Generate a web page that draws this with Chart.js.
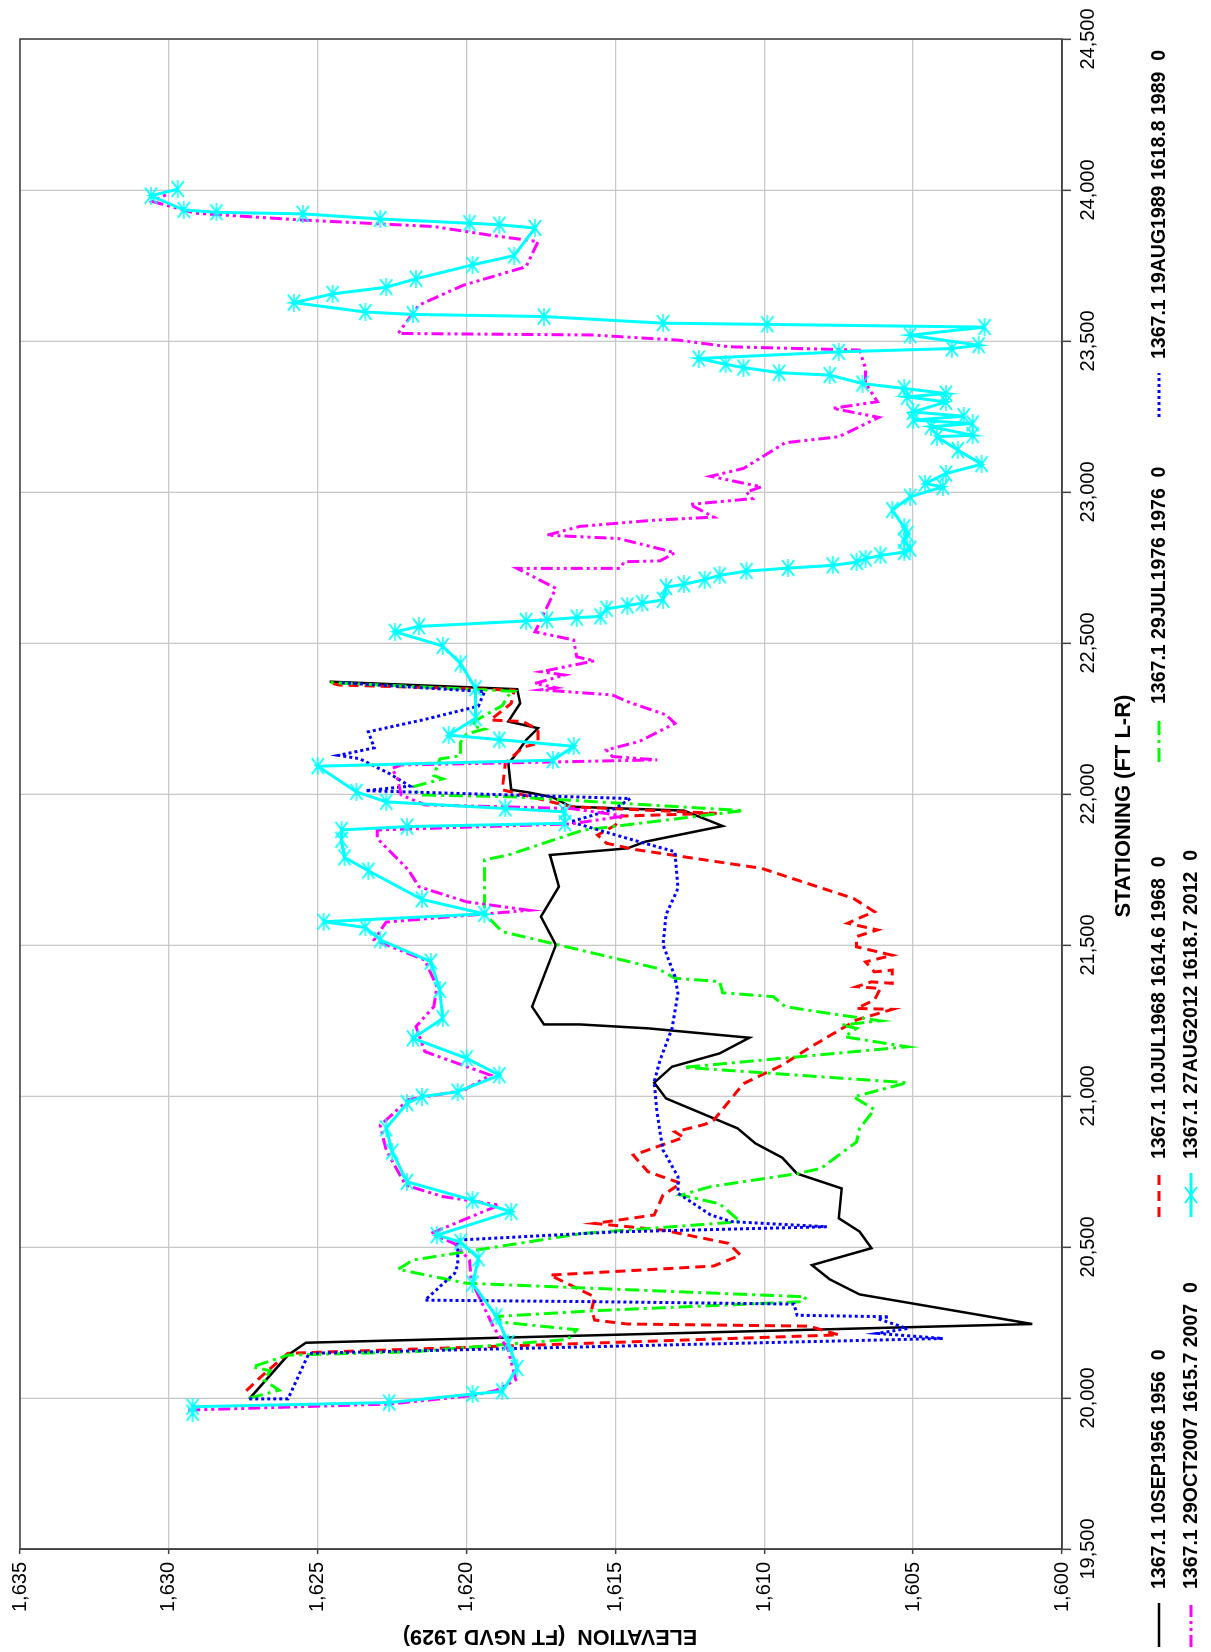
<!DOCTYPE html>
<html>
<head>
<meta charset="utf-8">
<script src="https://cdn.jsdelivr.net/npm/chart.js@4.4.0/dist/chart.umd.min.js"></script>
<style>
  html, body { margin: 0; padding: 0; background: #fff; overflow: hidden; }
  /* chart is laid out landscape, then turned a quarter turn counter-clockwise */
  #wrap { position: absolute; left: 0; top: 0; width: 1652px; height: 1211px;
          transform-origin: 0 0; transform: translateY(1652px) rotate(-90deg); }
</style>
</head>
<body>
<div id="wrap"><canvas id="profile" width="1652" height="1211"></canvas></div>
<script>
// ---- data: stationing (ft) and elevation (ft NGVD 1929) ----
const sta1956 = [19997, 20142, 20183, 20245, 20343, 20393, 20440, 20496, 20551, 20595,
  20694, 20743, 20796, 20843, 20893, 20992, 21044, 21097, 21141, 21193,
  21224, 21237, 21237, 21296, 21500, 21594, 21693, 21798, 21820, 21842,
  21894, 21945, 21958, 21989, 22005, 22014, 22102, 22124, 22179, 22218,
  22240, 22300, 22347, 22372];
const elev1956 = [1627.3, 1626.0, 1625.4, 1601.0, 1606.8, 1607.8, 1608.4, 1606.4, 1606.8, 1607.5,
  1607.4, 1608.9, 1609.4, 1610.3, 1610.9, 1613.3, 1613.7, 1613.1, 1611.5, 1610.5,
  1613.9, 1616.2, 1617.4, 1617.8, 1617.0, 1617.5, 1616.9, 1617.2, 1614.6, 1614.0,
  1611.4, 1612.7, 1616.5, 1617.1, 1617.9, 1618.5, 1618.6, 1618.4, 1618.0, 1617.6,
  1618.6, 1618.2, 1618.3, 1624.6];

const sta1968 = [20024, 20071, 20148, 20209, 20238, 20245, 20258, 20291, 20335, 20407,
  20437, 20473, 20512, 20556, 20578, 20606, 20672, 20711, 20749, 20804,
  20832, 20863, 20881, 20906, 20920, 21041, 21102, 21159, 21252, 21287,
  21290, 21318, 21356, 21362, 21378, 21373, 21417, 21411, 21444, 21466,
  21494, 21528, 21550, 21572, 21594, 21610, 21654, 21754, 21817, 21837,
  21864, 21897, 21927, 21936, 21958, 22014, 22102, 22155, 22168, 22212,
  22240, 22245, 22300, 22344, 22361, 22369];
const elev1968 = [1627.4, 1626.9, 1626.0, 1607.5, 1608.5, 1614.6, 1615.7, 1615.8, 1615.7, 1617.2,
  1611.7, 1610.8, 1611.2, 1613.4, 1615.7, 1613.7, 1613.4, 1612.8, 1613.9, 1614.4,
  1613.6, 1612.7, 1613.0, 1612.0, 1611.7, 1610.7, 1609.4, 1608.5, 1606.9, 1605.7,
  1606.9, 1606.3, 1606.1, 1606.9, 1606.4, 1605.7, 1605.7, 1606.3, 1606.6, 1605.7,
  1606.9, 1606.9, 1606.2, 1607.2, 1606.7, 1606.3, 1607.0, 1610.1, 1614.4, 1615.3,
  1615.6, 1615.0, 1614.8, 1611.6, 1616.5, 1618.8, 1618.7, 1618.1, 1617.6, 1617.6,
  1618.1, 1619.2, 1618.5, 1618.4, 1624.3, 1624.6];

const sta1976 = [19999, 20026, 20059, 20090, 20103, 20142, 20153, 20194, 20226, 20251,
  20270, 20289, 20319, 20335, 20380, 20426, 20457, 20545, 20584, 20643,
  20672, 20700, 20743, 20760, 20848, 20893, 20955, 20997, 21044, 21095,
  21163, 21196, 21224, 21235, 21249, 21279, 21296, 21329, 21342, 21379,
  21390, 21423, 21500, 21544, 21594, 21616, 21782, 21798, 21880, 21945,
  21991, 21997, 22024, 22050, 22061, 22116, 22127, 22171, 22199, 22215,
  22226, 22243, 22293, 22326, 22340, 22369];
const elev1976 = [1627.3, 1626.3, 1626.8, 1626.6, 1627.2, 1626.0, 1621.8, 1616.6, 1616.3, 1618.8,
  1619.0, 1615.7, 1608.7, 1608.6, 1620.0, 1622.3, 1621.8, 1616.1, 1610.8, 1611.5,
  1612.8, 1611.8, 1608.9, 1608.1, 1606.9, 1606.8, 1606.3, 1607.0, 1605.2, 1612.7,
  1605.2, 1607.3, 1606.9, 1607.4, 1606.1, 1608.2, 1609.3, 1609.7, 1611.4, 1611.5,
  1613.0, 1613.6, 1616.9, 1618.8, 1619.3, 1619.4, 1619.4, 1618.6, 1616.1, 1610.7,
  1618.5, 1621.6, 1621.8, 1620.8, 1621.1, 1620.9, 1620.2, 1620.2, 1620.0, 1619.4,
  1619.8, 1619.7, 1618.8, 1618.6, 1618.4, 1624.6];

const sta1989 = [19997, 19997, 20148, 20197, 20214, 20230, 20263, 20269, 20274, 20311,
  20319, 20324, 20413, 20440, 20523, 20550, 20567, 20584, 20606, 20678,
  20733, 20821, 20942, 21047, 21119, 21224, 21340, 21395, 21500, 21600,
  21688, 21809, 21853, 21908, 21952, 21985, 22011, 22026, 22068, 22117,
  22128, 22153, 22206, 22247, 22291, 22339, 22369];
const elev1989 = [1627.3, 1626.0, 1625.3, 1604.0, 1606.2, 1605.2, 1606.2, 1605.8, 1608.9, 1609.0,
  1615.7, 1621.4, 1620.4, 1620.3, 1620.3, 1615.0, 1607.9, 1611.1, 1611.8, 1612.9,
  1612.9, 1613.4, 1613.6, 1613.7, 1613.5, 1613.1, 1612.9, 1613.0, 1613.4, 1613.3,
  1612.9, 1613.0, 1614.6, 1616.5, 1615.0, 1614.5, 1623.4, 1621.9, 1622.6, 1623.6,
  1624.3, 1623.1, 1623.3, 1621.4, 1619.6, 1619.4, 1624.3];

const sta2007 = [19960, 19980, 20008, 20025, 20060, 20159, 20236, 20390, 20456, 20511,
  20545, 20639, 20667, 20705, 20821, 20903, 20988, 21019, 21069, 21147,
  21230, 21296, 21362, 21450, 21517, 21576, 21615, 21643, 21693, 21748,
  21853, 21881, 21901, 21927, 21952, 21964, 21997, 22046, 22085, 22096,
  22113, 22124, 22146, 22174, 22234, 22262, 22306, 22328, 22345, 22352,
  22366, 22394, 22405, 22441, 22454, 22510, 22537, 22598, 22681, 22747,
  22747, 22769, 22772, 22799, 22819, 22846, 22857, 22886, 22906, 22917,
  22959, 22978, 23000, 23017, 23052, 23078, 23163, 23183, 23247, 23277,
  23299, 23360, 23410, 23470, 23481, 23503, 23520, 23525, 23619, 23685,
  23746, 23829, 23851, 23879, 23901, 23923, 23962, 23984];
const elev2007 = [1629.35, 1622.6, 1619.8, 1619.0, 1618.35, 1618.6, 1619.1, 1619.85, 1619.9, 1620.4,
  1621.2, 1618.9, 1620.8, 1622.05, 1622.7, 1622.9, 1621.95, 1620.1, 1619.2, 1621.4,
  1621.7, 1621.1, 1621.0, 1621.4, 1623.1, 1622.7, 1617.9, 1620.0, 1621.6, 1621.95,
  1623.0, 1623.0, 1616.5, 1614.7, 1616.5, 1621.4, 1622.2, 1622.3, 1622.5, 1622.2,
  1613.6, 1615.1, 1615.3, 1614.2, 1613.0, 1613.3, 1614.6, 1615.1, 1617.5, 1617.0,
  1617.7, 1616.7, 1617.5, 1615.7, 1616.3, 1616.4, 1617.7, 1617.4, 1617.0, 1618.3,
  1614.85, 1614.7, 1613.5, 1613.0, 1613.8, 1614.9, 1617.3, 1616.2, 1613.8, 1611.7,
  1612.5, 1610.4, 1610.6, 1610.1, 1611.8, 1610.7, 1609.3, 1607.5, 1606.15, 1607.7,
  1606.2, 1606.6, 1606.6, 1606.8, 1611.2, 1612.9, 1615.8, 1622.3, 1621.6, 1620.1,
  1618.0, 1617.6, 1619.25, 1621.1, 1625.6, 1629.1, 1630.55, 1630.1];

const sta2012 = [19951, 19971, 19985, 20013, 20022, 20099, 20182, 20270, 20379, 20462,
  20517, 20539, 20617, 20655, 20716, 20816, 20893, 20976, 20998, 21014,
  21069, 21125, 21191, 21257, 21351, 21445, 21517, 21558, 21577, 21603,
  21651, 21746, 21790, 21848, 21881, 21892, 21903, 21941, 21952, 21974,
  22007, 22092, 22112, 22158, 22180, 22195, 22251, 22350, 22432, 22490,
  22537, 22555, 22573, 22577, 22584, 22588, 22613, 22624, 22632, 22643,
  22685, 22694, 22710, 22724, 22738, 22748, 22757, 22768, 22779, 22790,
  22801, 22812, 22839, 22861, 22883, 22940, 22984, 23017, 23028, 23061,
  23092, 23139, 23183, 23188, 23216, 23227, 23238, 23251, 23265, 23298,
  23315, 23326, 23343, 23359, 23387, 23395, 23412, 23423, 23442, 23464,
  23475, 23486, 23519, 23546, 23555, 23559, 23581, 23588, 23596, 23627,
  23656, 23678, 23706, 23752, 23783, 23874, 23885, 23890, 23904, 23921,
  23926, 23934, 23981, 24003];
const elev2012 = [1629.2, 1629.2, 1622.6, 1619.8, 1618.8, 1618.3, 1618.6, 1619.0, 1619.8, 1619.6,
  1620.2, 1621.0, 1618.5, 1619.8, 1622.0, 1622.5, 1622.7, 1622.0, 1621.5, 1620.3,
  1618.9, 1620.0, 1621.8, 1620.8, 1620.9, 1621.2, 1622.9, 1623.4, 1624.8, 1619.4,
  1621.5, 1623.3, 1624.1, 1624.2, 1624.2, 1622.0, 1616.7, 1616.7, 1618.7, 1622.7,
  1623.7, 1625.0, 1617.1, 1616.4, 1618.9, 1620.6, 1619.7, 1619.7, 1620.2, 1620.8,
  1622.4, 1621.6, 1618.0, 1617.3, 1616.3, 1615.5, 1615.3, 1614.6, 1614.1, 1613.4,
  1613.3, 1612.7, 1612.0, 1611.5, 1610.6, 1609.2, 1607.7, 1606.9, 1606.6, 1606.1,
  1605.3, 1605.1, 1605.3, 1605.2, 1605.3, 1605.7, 1605.1, 1604.0, 1604.6, 1603.9,
  1602.7, 1603.5, 1604.2, 1603.0, 1604.4, 1603.0, 1605.0, 1603.3, 1605.0, 1603.9,
  1605.2, 1603.9, 1605.3, 1606.7, 1607.8, 1609.5, 1610.7, 1611.3, 1612.2, 1607.5,
  1603.7, 1602.8, 1605.1, 1602.6, 1609.9, 1613.4, 1617.4, 1621.8, 1623.4, 1625.8,
  1624.5, 1622.7, 1621.7, 1619.8, 1618.4, 1617.7, 1618.9, 1619.9, 1622.9, 1625.5,
  1628.4, 1629.5, 1630.6, 1629.7];

const surveyLabels = [
  '1367.1 10SEP1956 1956  0',
  '1367.1 10JUL1968 1614.6 1968  0',
  '1367.1 29JUL1976 1976  0',
  '1367.1 19AUG1989 1618.8 1989  0',
  '1367.1 29OCT2007 1615.7 2007  0',
  '1367.1 27AUG2012 1618.7 2012  0'
];
const xTitle = 'STATIONING (FT L-R)';
const yTitle = 'ELEVATION  (FT NGVD 1929)';

// ---- styling ----
const FONT = '"Liberation Sans", Arial, Helvetica, sans-serif';
Chart.defaults.font.family = FONT;
Chart.defaults.color = '#000';

const pts = (sta, elev) => sta.map((s, i) => ({ x: s, y: elev[i] }));

// asterisk-like marker used by the 2012 survey
const star = document.createElement('canvas');
star.width = 18; star.height = 18;
(function () {
  const g = star.getContext('2d');
  g.strokeStyle = '#00ffff';
  g.lineWidth = 1.6;
  g.beginPath();
  g.moveTo(1, 3); g.lineTo(17, 15);
  g.moveTo(17, 3); g.lineTo(1, 15);
  g.moveTo(0, 9); g.lineTo(18, 9);
  g.stroke();
})();

function series(label, sta, elev, color, dash, width, order) {
  return {
    label, data: pts(sta, elev), showLine: true, tension: 0,
    borderColor: color, backgroundColor: color, borderWidth: width,
    borderDash: dash, pointRadius: 0, order
  };
}

const datasets = [
  series(surveyLabels[0], sta1956, elev1956, '#000000', [], 2.5, 6),
  series(surveyLabels[1], sta1968, elev1968, '#ff0000', [10, 6], 3, 5),
  series(surveyLabels[2], sta1976, elev1976, '#00ff00', [14, 5, 3, 5], 3, 4),
  series(surveyLabels[3], sta1989, elev1989, '#0000ff', [3, 3], 3, 3),
  series(surveyLabels[4], sta2007, elev2007, '#ff00ff', [12, 4, 3, 4, 3, 4], 3, 2),
  Object.assign(series(surveyLabels[5], sta2012, elev2012, '#00ffff', [], 3, 1),
    { pointRadius: 8, pointStyle: star })
];

// frame round the plot, axis titles and the two-row legend under the stationing title
const legendSlots = [[0, 5, 1159], [1, 435, 1159], [2, 890, 1159], [3, 1235, 1159],
                     [4, 5, 1191], [5, 435, 1191]];
const frameAndLegend = {
  id: 'frameAndLegend',
  afterDraw(chart) {
    const { ctx, chartArea: a } = chart;
    ctx.save();
    ctx.strokeStyle = '#404040';
    ctx.lineWidth = 1.5;
    ctx.strokeRect(a.left, a.top, a.right - a.left, a.bottom - a.top);

    ctx.fillStyle = '#000';
    ctx.textAlign = 'center';
    ctx.textBaseline = 'middle';
    ctx.font = 'bold 22px ' + FONT;
    ctx.fillText(xTitle, 846, 1124);
    ctx.save();
    ctx.translate(16, 550);
    ctx.rotate(-Math.PI / 2);
    ctx.font = 'bold 21.5px ' + FONT;
    ctx.fillText(yTitle, 0, 0);
    ctx.restore();

    ctx.textAlign = 'left';
    ctx.font = 'bold 19.5px ' + FONT;
    legendSlots.forEach(([i, x, y]) => {
      const ds = chart.data.datasets[i];
      ctx.save();
      ctx.strokeStyle = ds.borderColor;
      ctx.lineWidth = ds.borderWidth;
      ctx.setLineDash(ds.borderDash);
      ctx.beginPath(); ctx.moveTo(x, y); ctx.lineTo(x + 44, y); ctx.stroke();
      if (ds.pointStyle) ctx.drawImage(ds.pointStyle, x + 22 - 9, y - 9);
      ctx.restore();
      ctx.fillText(ds.label, x + 58, y + 1);
    });
    ctx.restore();
  }
};

new Chart(document.getElementById('profile'), {
  type: 'scatter',
  data: { datasets },
  plugins: [frameAndLegend],
  options: {
    responsive: false, animation: false, events: [],
    layout: { padding: { left: 0, top: 16, right: 39, bottom: 70 } },
    plugins: { legend: { display: false }, tooltip: { enabled: false } },
    scales: {
      x: {
        type: 'linear', min: 19500, max: 24500,
        ticks: { stepSize: 500, autoSkip: false, maxRotation: 0, padding: 5,
                 font: { size: 20 }, callback: v => v.toLocaleString('en-US') },
        grid: { color: '#c8c8c8', lineWidth: 1.3, tickLength: 9, tickColor: '#404040', tickWidth: 1.5 },
        border: { color: '#404040', width: 1.5 },
        afterFit: s => { s.height = 79; }
      },
      y: {
        type: 'linear', min: 1600, max: 1635,
        ticks: { stepSize: 5, autoSkip: false, padding: 8,
                 font: { size: 20 }, callback: v => v.toLocaleString('en-US') },
        grid: { color: '#c8c8c8', lineWidth: 1.3, tickLength: 5, tickColor: '#404040', tickWidth: 1.5 },
        border: { color: '#404040', width: 1.5 },
        afterFit: s => { s.width = 103; }
      }
    }
  }
});
</script>
</body>
</html>
